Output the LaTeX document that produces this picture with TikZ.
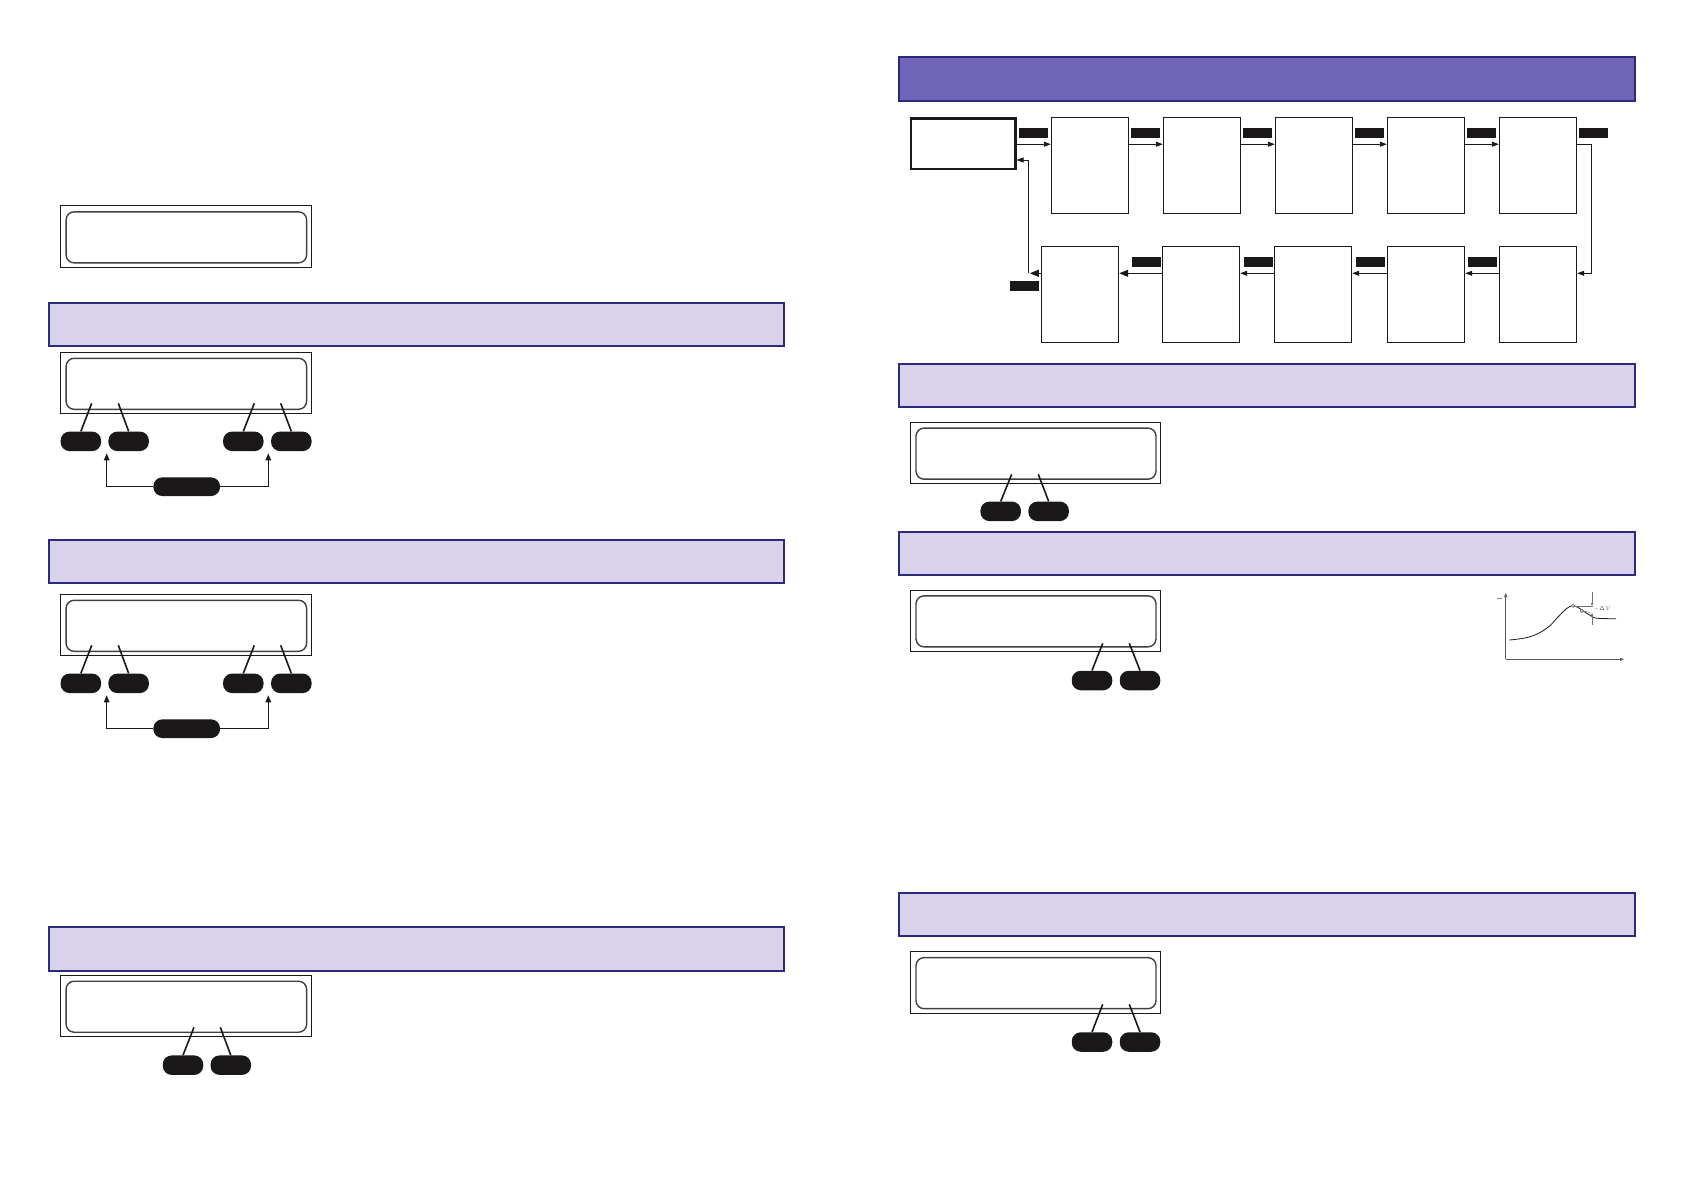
\documentclass[tikz,border=0pt]{standalone}
\usetikzlibrary{arrows.meta,calc}
\definecolor{navy}{RGB}{46,42,122}
\definecolor{lav}{RGB}{217,210,236}
\definecolor{purp}{RGB}{113,101,185}
\definecolor{ink}{RGB}{26,24,24}
\begin{document}
\begin{tikzpicture}[x=1pt,y=-1pt,
  bar/.style={draw=navy, line width=2pt, fill=lav, inner sep=0pt, outer sep=0pt, minimum width=735pt, minimum height=43.5pt},
  darkbar/.style={bar, fill=purp},
  lcdo/.style={draw=ink, line width=1.1pt, minimum width=251pt, minimum height=61.5pt, inner sep=0pt},
  lcdi/.style={draw=black!75, line width=1.4pt, rounded corners=8pt, minimum width=240.5pt, minimum height=51pt, inner sep=0pt},
  pill/.style={fill=ink, rounded corners=9pt, minimum width=40.5pt, minimum height=19.5pt, inner sep=0pt},
  cpill/.style={pill, minimum width=66.7pt, minimum height=18.7pt},
  lead/.style={line width=1.6pt, draw=ink},
  brk/.style={line width=1.4pt, draw=ink, -{Triangle[length=7pt,width=5.5pt]}},
  fbox/.style={draw=ink, line width=1.1pt, minimum width=77.3pt, minimum height=95.5pt, inner sep=0pt},
  sbox/.style={draw=ink, line width=2.4pt, minimum width=104.6pt, minimum height=50.3pt, inner sep=0pt},
  tag/.style={fill=ink, minimum width=28.7pt, minimum height=10.2pt, inner sep=0pt},
  flow/.style={line width=0.9pt, draw=ink, -{Triangle[length=7pt,width=5pt]}},
  bflow/.style={line width=0.9pt, draw=ink, -{Triangle[length=9pt,width=7pt]}},
  gaxis/.style={line width=0.6pt, draw=black!65, -{Triangle[length=4pt,width=3pt]}}
]
\useasboundingbox (0,0) rectangle (1684,1190);
\fill[white] (0,0) rectangle (1684,1190);

% ---------- left column ----------
\node[lcdo] (lo0) at (185.85,236.65) {};
\node[lcdi] (li0) at (186.35,237.35) {};

\foreach \s/\b/\l in {a/0/0, b/237/242} {
  \node[bar] (bar\s) at (416.8,324.35+\b) {};
  \node[lcdo] (lo\s) at (185.85,383.05+\l) {};
  \node[lcdi] (li\s) at (186.35,383.8+\l) {};
  \node[pill] (pa\s) at (80.85,441.35+\l) {};
  \node[pill] (pb\s) at (128.65,441.35+\l) {};
  \node[pill] (pc\s) at (243.3,441.35+\l) {};
  \node[pill] (pd\s) at (291.35,441.35+\l) {};
  \coordinate (ea\s) at (91.7,403.3+\l);
  \coordinate (eb\s) at (118.3,403.3+\l);
  \coordinate (ec\s) at (254.3,403.3+\l);
  \coordinate (ed\s) at (280.7,403.3+\l);
  \draw[lead] (pa\s.north) -- (ea\s);
  \draw[lead] (pb\s.north) -- (eb\s);
  \draw[lead] (pc\s.north) -- (ec\s);
  \draw[lead] (pd\s.north) -- (ed\s);
  \node[cpill] (cp\s) at (186.7,486.7+\l) {};
  \coordinate (ta\s) at (106.7,453.3+\l);
  \coordinate (tb\s) at (268.3,453.3+\l);
  \draw[brk] (cp\s.west) -| (ta\s);
  \draw[brk] (cp\s.east) -| (tb\s);
}

\node[bar] (barc) at (416.8,949.15) {};
\node[lcdo] (loc) at (185.85,1006) {};
\node[lcdi] (lic) at (186.35,1006.7) {};
\node[pill] (pac) at (183,1065.15) {};
\node[pill] (pbc) at (230.8,1065.15) {};
\coordinate (eac) at (194,1027.3);
\coordinate (ebc) at (220.3,1027.3);
\draw[lead] (pac.north) -- (eac);
\draw[lead] (pbc.north) -- (ebc);

% ---------- right column ----------
\node[darkbar, minimum width=735.2pt] (dbar) at (1266.9,79.15) {};
\node[bar, minimum width=735.2pt] (rbar1) at (1266.9,385.3) {};
\node[bar, minimum width=735.2pt] (rbar2) at (1266.9,553.35) {};
\node[bar, minimum width=735.2pt] (rbar3) at (1266.9,914.7) {};

\node[lcdo, minimum width=249.5pt] (rlo1) at (1035.35,453.15) {};
\node[lcdi, minimum width=240pt] (rli1) at (1036,453.65) {};
\node[pill] (rp1a) at (1000.7,511.35) {};
\node[pill] (rp1b) at (1048.65,511.35) {};
\coordinate (re1a) at (1011.7,474.3);
\coordinate (re1b) at (1038.3,474.3);
\draw[lead] (rp1a.north) -- (re1a);
\draw[lead] (rp1b.north) -- (re1b);

\node[lcdo, minimum width=249.5pt] (rlo2) at (1035.5,620.85) {};
\node[lcdi, minimum width=240pt] (rli2) at (1036,621.35) {};
\node[pill] (rp2a) at (1092,680.5) {};
\node[pill] (rp2b) at (1140,680.5) {};
\coordinate (re2a) at (1102.7,643.3);
\coordinate (re2b) at (1129.3,643.3);
\draw[lead] (rp2a.north) -- (re2a);
\draw[lead] (rp2b.north) -- (re2b);

\node[lcdo, minimum width=249.5pt] (rlo3) at (1035.5,982.65) {};
\node[lcdi, minimum width=240pt] (rli3) at (1036,983.15) {};
\node[pill] (rp3a) at (1092,1042) {};
\node[pill] (rp3b) at (1140,1042) {};
\coordinate (re3a) at (1102.7,1004.3);
\coordinate (re3b) at (1129.3,1004.3);
\draw[lead] (rp3a.north) -- (re3a);
\draw[lead] (rp3b.north) -- (re3b);

% ---------- flow chart ----------
\node[sbox] (start) at (963,143.85) {};
\node[fbox] (T1) at (1090,165.5) {};
\node[fbox] (T2) at (1202,165.5) {};
\node[fbox] (T3) at (1314,165.5) {};
\node[fbox] (T4) at (1426,165.5) {};
\node[fbox] (T5) at (1538,165.5) {};
\node[fbox] (B1) at (1080,294.4) {};
\node[fbox] (B2) at (1201,294.4) {};
\node[fbox] (B3) at (1313,294.4) {};
\node[fbox] (B4) at (1426,294.4) {};
\node[fbox] (B5) at (1538,294.4) {};

\node[tag] (tg1) at (1033.5,133.4) {};
\node[tag] (tg2) at (1145.35,133.4) {};
\node[tag] (tg3) at (1257.35,133.4) {};
\node[tag] (tg4) at (1369.35,133.4) {};
\node[tag] (tg5) at (1481.35,133.4) {};
\node[tag] (tg6) at (1593.35,133.4) {};
\node[tag] (bg4) at (1482.5,262.35) {};
\node[tag] (bg3) at (1370.5,262.35) {};
\node[tag] (bg2) at (1258.35,262.35) {};
\node[tag] (bg1) at (1146.35,262.35) {};
\node[tag] (bg0) at (1024.35,286.35) {};

\coordinate (rowt) at (0,144.2);
\coordinate (rowb) at (0,273.3);
\coordinate (turnR) at (1591,0);
\coordinate (turnL) at (1028.3,0);
\coordinate (loopy) at (0,160);

\draw[flow] (start.east |- rowt) -- (T1.west |- rowt);
\draw[flow] (T1.east |- rowt) -- (T2.west |- rowt);
\draw[flow] (T2.east |- rowt) -- (T3.west |- rowt);
\draw[flow] (T3.east |- rowt) -- (T4.west |- rowt);
\draw[flow] (T4.east |- rowt) -- (T5.west |- rowt);
\draw[flow] (T5.east |- rowt) -- (turnR |- rowt) -- (turnR |- rowb) -- (B5.east |- rowb);
\draw[flow] (B5.west |- rowb) -- (B4.east |- rowb);
\draw[flow] (B4.west |- rowb) -- (B3.east |- rowb);
\draw[flow] (B3.west |- rowb) -- (B2.east |- rowb);
\draw[bflow] (B2.west |- rowb) -- (B1.east |- rowb);
\draw[bflow] (B1.west |- rowb) -- ($(turnL |- rowb)+(1.5,0)$);
\draw[flow] (turnL |- rowb) -- (turnL |- loopy) -- (start.east |- loopy);

% ---------- graph ----------
\coordinate (go) at (1505.7,659.3);
\coordinate (gy) at (1505.7,593);
\coordinate (gx) at (1624,659.3);
\draw[gaxis] (go) -- (gy);
\draw[gaxis] (go) -- (gx);
\draw[black!50, line width=0.5pt] (1497,598.3) -- (1502,598.3);
\draw[ink, line width=0.8pt] plot[smooth, tension=0.7] coordinates {(1509.3,640) (1530,636.7) (1546.7,628.3) (1558,617) (1566,609) (1572.5,605.8) (1578,607.5) (1584,611.5) (1591,615.8) (1597,618.2) (1616,618.7)};
\draw[black!55, line width=0.5pt] (1573,605.8) -- (1593,605.8);
\draw[black!55, line width=0.5pt] (1581.7,610.8) -- (1590,612.5);
\draw[black!55, line width=0.5pt, -{Triangle[length=3pt,width=2.5pt]}] (1592,591.7) -- (1592,605.8);
\draw[black!55, line width=0.5pt, -{Triangle[length=3pt,width=2.5pt]}] (1592,625) -- (1592,613);
\draw[black!70, line width=0.5pt, fill=white] (1573,605.8) circle (1.6);
\draw[black!70, line width=0.5pt, fill=white] (1581.7,610.9) circle (1.6);
\node[anchor=west, inner sep=0pt, text=black!65, font=\fontsize{6}{7}\selectfont\sffamily] (dv) at (1593.5,609.3) {$-\mathsf{\Delta}\mathit{V}$};
\end{tikzpicture}
\end{document}
